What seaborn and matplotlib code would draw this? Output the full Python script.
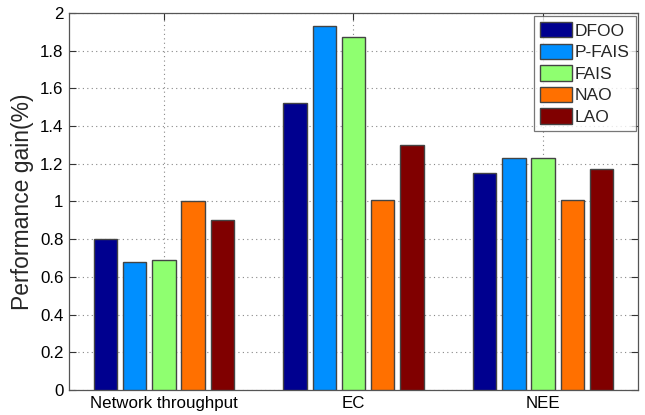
import matplotlib
matplotlib.use("Agg")
import matplotlib.pyplot as plt
import seaborn as sns
import pandas as pd

# Metrics on the x axis and the schemes compared
categories = ["Network throughput", "EC", "NEE"]
schemes = ["DFOO", "P-FAIS", "FAIS", "NAO", "LAO"]

# Performance gain (%) of each scheme per metric
dfoo = [0.80, 1.52, 1.15]
pfais = [0.68, 1.93, 1.23]
fais = [0.69, 1.87, 1.23]
nao = [1.00, 1.01, 1.01]
lao = [0.90, 1.30, 1.17]

yticks = [0, 0.2, 0.4, 0.6, 0.8, 1, 1.2, 1.4, 1.6, 1.8, 2]
ytick_labels = ["0", "0.2", "0.4", "0.6", "0.8", "1", "1.2", "1.4", "1.6", "1.8", "2"]

colors = ["#00008F", "#008FFF", "#8FFF70", "#FF7000", "#800000"]

rows = []
for name, vals in zip(schemes, [dfoo, pfais, fais, nao, lao]):
    for cat, v in zip(categories, vals):
        rows.append({"metric": cat, "scheme": name, "gain": v})
df = pd.DataFrame(rows)

sns.set_style("white")
plt.rcParams["font.family"] = ["Liberation Sans", "DejaVu Sans"]

fig = plt.figure(figsize=(6.45, 4.15), dpi=100)
ax = fig.add_axes([0.107, 0.060, 0.882, 0.909])

sns.barplot(data=df, x="metric", y="gain", hue="scheme", order=categories,
            hue_order=schemes, palette=colors, width=0.77, gap=0.2,
            edgecolor="#444444", linewidth=1.0, saturation=1, ax=ax,
            errorbar=None, zorder=3)

ax.set_xlim(-0.5, 2.5)
ax.set_ylim(0, 2)
ax.set_yticks(yticks)
ax.set_yticklabels(ytick_labels)
ax.set_xlabel("")
ax.set_ylabel("Performance gain(%)", fontsize=16.5, labelpad=4)

ax.grid(True, linestyle=(0, (1, 3)), color="#888888", linewidth=0.8, zorder=0)
ax.set_axisbelow(True)
ax.tick_params(axis="both", direction="in", length=5, width=0.8,
               colors="#333333", labelcolor="black", labelsize=12.2,
               top=True, right=True, bottom=True, left=True, pad=4)
for s in ax.spines.values():
    s.set_visible(True)
    s.set_color("#555555")
    s.set_linewidth(0.9)

leg = ax.legend(loc="upper right", bbox_to_anchor=(0.9965, 0.992),
                fontsize=12.5, frameon=True, fancybox=False, edgecolor="#555555",
                handlelength=1.85, handleheight=1.0, handletextpad=0.15,
                labelspacing=0.28, borderpad=0.35, borderaxespad=0.0)
leg.get_frame().set_linewidth(0.9)

fig.savefig("out.png", dpi=100)
